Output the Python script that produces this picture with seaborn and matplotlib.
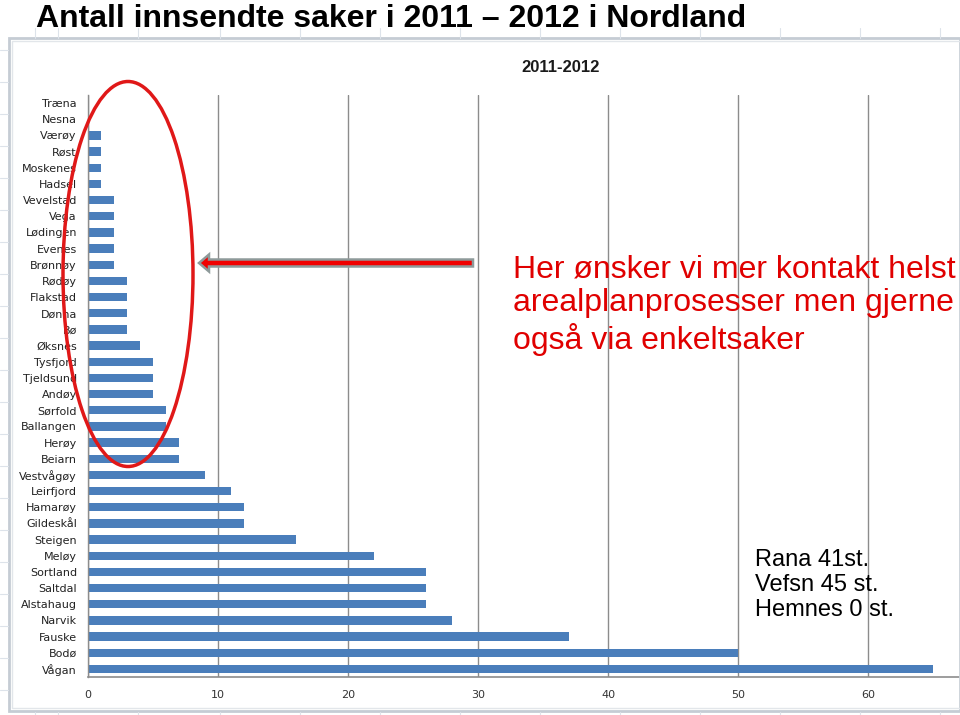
import matplotlib
matplotlib.use("Agg")
import matplotlib.pyplot as plt
import seaborn as sns
import pandas as pd
from matplotlib.patches import Ellipse, FancyArrow, Rectangle
from matplotlib.lines import Line2D

municipalities = ["Træna", "Nesna", "Værøy", "Røst", "Moskenes", "Hadsel", "Vevelstad",
                  "Vega", "Lødingen", "Evenes", "Brønnøy", "Rødøy", "Flakstad", "Dønna",
                  "Bø", "Øksnes", "Tysfjord", "Tjeldsund", "Andøy", "Sørfold", "Ballangen",
                  "Herøy", "Beiarn", "Vestvågøy", "Leirfjord", "Hamarøy", "Gildeskål",
                  "Steigen", "Meløy", "Sortland", "Saltdal", "Alstahaug", "Narvik",
                  "Fauske", "Bodø", "Vågan"]
cases = [0, 0, 1, 1, 1, 1, 2, 2, 2, 2, 2, 3, 3, 3, 3, 4, 5, 5, 5, 6, 6, 7, 7, 9,
         11, 12, 12, 16, 22, 26, 26, 26, 28, 37, 50, 65]
x_ticks = [0, 10, 20, 30, 40, 50, 60]

main_title = "Antall innsendte saker i 2011 – 2012 i Nordland"
chart_title = "2011-2012"
callout = "Her ønsker vi mer kontakt helst\narealplanprosesser men gjerne\nogså via enkeltsaker"
side_note = "Rana 41st.\nVefsn 45 st.\nHemnes 0 st."

df = pd.DataFrame({"Kommune": municipalities, "Saker": cases})

sns.set_theme(style="white")
plt.rcParams["font.family"] = ["Liberation Sans", "DejaVu Sans"]

W, H = 960, 715
fig = plt.figure(figsize=(9.6, 7.15), dpi=100)
fig.patch.set_facecolor("white")

def fx(px):
    return px / W

def fy(py):
    return 1 - py / H

# spreadsheet background lines
for xv in [35, 58, 138, 220, 300, 380, 460, 540, 620, 700, 780, 860, 940]:
    fig.add_artist(Line2D([fx(xv), fx(xv)], [fy(28), fy(38)], color="#dde3ea", lw=0.8))
    fig.add_artist(Line2D([fx(xv), fx(xv)], [fy(712), fy(715)], color="#dde3ea", lw=0.8))
for yv in range(50, 715, 32):
    fig.add_artist(Line2D([0, fx(8)], [fy(yv), fy(yv)], color="#dde3ea", lw=0.8))

# chart frame
fig.add_artist(Rectangle((fx(9), fy(711)), fx(960) - fx(9), fy(38) - fy(711),
                         fill=False, edgecolor="#c5ccd4", lw=2.0))
fig.add_artist(Rectangle((fx(12), fy(708)), fx(960) - fx(12), fy(41) - fy(708),
                         fill=False, edgecolor="#e2e6ea", lw=1.0))

ax = fig.add_axes([fx(88), fy(677), fx(960) - fx(88), fy(95) - fy(677)])
sns.barplot(data=df, x="Saker", y="Kommune", orient="h", color="#4a7ebb",
            saturation=1, width=0.52, ax=ax, order=municipalities, linewidth=0)

ax.set_xlim(0, (960 - 88) / 13.0)
ax.set_ylim(len(municipalities) - 0.5, -0.5)
ax.set_xticks(x_ticks)
ax.set_xticklabels([str(v) for v in x_ticks], fontsize=8, color="#333333",
                   family=["DejaVu Sans"])
ax.set_yticks(range(len(municipalities)))
ax.set_yticklabels(municipalities, fontsize=8, color="#222222", family=["DejaVu Sans"])
ax.set_yticks([i - 0.5 for i in range(len(municipalities) + 1)], minor=True)
ax.tick_params(axis="y", which="major", length=0, pad=8)
ax.tick_params(axis="y", which="minor", length=4, color="#888888", width=0.8, direction="out")
ax.tick_params(axis="x", which="major", length=0, pad=9)
ax.set_xlabel("")
ax.set_ylabel("")
ax.xaxis.grid(True, color="#8c8c8c", lw=1.0)
ax.set_axisbelow(True)
for s in ["top", "right"]:
    ax.spines[s].set_visible(False)
ax.spines["left"].set_color("#8c8c8c")
ax.spines["bottom"].set_color("#8c8c8c")
ax.spines["left"].set_linewidth(1.0)
ax.spines["bottom"].set_linewidth(1.2)

fig.text(fx(36), fy(27), main_title, fontsize=23, fontweight="bold",
         ha="left", va="baseline", color="black",
         family=["Liberation Sans Narrow", "Liberation Sans"])
fig.text(fx(561), fy(68), chart_title, fontsize=12, fontweight="bold",
         ha="center", va="center", color="#1a1a1a")

fig.text(fx(513), fy(305), callout, fontsize=23, ha="left", va="center",
         color="#e00000", linespacing=1.17)
fig.text(fx(755), fy(585), side_note, fontsize=17, ha="left", va="center",
         color="black", linespacing=1.17)

fig.add_artist(Ellipse((fx(128), fy(274)), fx(130), 385 / H, fill=False,
                       edgecolor="#e01818", lw=2.5))
fig.add_artist(FancyArrow(fx(473), fy(263), fx(199) - fx(473), 0, width=7 / H,
                          head_width=17 / H, head_length=10 / W,
                          length_includes_head=True, transform=fig.transFigure,
                          facecolor="#f00000", edgecolor="#8e9a9a", lw=1.8))

fig.savefig("out.png", dpi=100)
